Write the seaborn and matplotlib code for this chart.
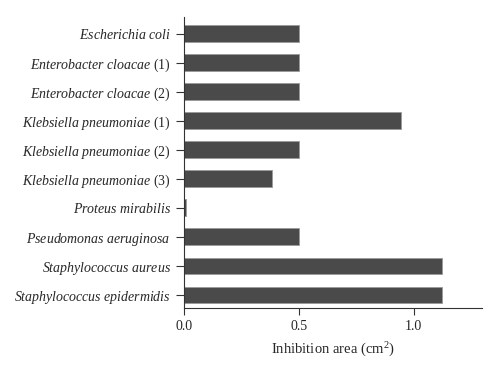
import pandas as pd
import matplotlib
matplotlib.use("Agg")
import matplotlib.pyplot as plt
import seaborn as sns

species = ["Escherichia coli", "Enterobacter cloacae", "Enterobacter cloacae",
           "Klebsiella pneumoniae", "Klebsiella pneumoniae", "Klebsiella pneumoniae",
           "Proteus mirabilis", "Pseudomonas aeruginosa", "Staphylococcus aureus",
           "Staphylococcus epidermidis"]
strain = ["", "(1)", "(2)", "(1)", "(2)", "(3)", "", "", "", ""]
area = [0.50, 0.50, 0.50, 0.945, 0.50, 0.383, 0.01, 0.50, 1.123, 1.123]

sns.set_style("ticks")
plt.rcParams["font.family"] = ["Liberation Serif", "DejaVu Serif"]
plt.rcParams["mathtext.fontset"] = "custom"
plt.rcParams["mathtext.it"] = "Liberation Serif:italic"
plt.rcParams["mathtext.rm"] = "Liberation Serif"

labels = []
for s, n in zip(species, strain):
    lab = r"$\it{" + s.replace(" ", r"\ ") + "}$"
    if n:
        lab += " " + n
    labels.append(lab)

df = pd.DataFrame({"label": labels, "area": area})

fig = plt.figure(figsize=(5, 3.78), dpi=100)
ax = fig.add_axes([0.368, 0.185, 0.597, 0.77])
sns.barplot(data=df, x="area", y="label", color="#4a4a4a", saturation=1,
            width=0.58, edgecolor="#9a9a9a", linewidth=0.6, ax=ax)

ax.set_xlim(0, 1.3)
ax.set_ylim(9.45, -0.57)
ax.set_xticks([0, 0.5, 1.0])
ax.set_xticklabels(["0.0", "0.5", "1.0"])
ax.set_ylabel("")
ax.set_xlabel("Inhibition area (cm$^2$)", fontsize=10.5, labelpad=6)
ax.tick_params(axis="both", labelsize=10, color="#333333", width=0.8)
ax.tick_params(axis="y", length=6)
ax.tick_params(axis="x", length=5)
sns.despine(ax=ax)
for sp in ["left", "bottom"]:
    ax.spines[sp].set_linewidth(0.8)
    ax.spines[sp].set_color("#333333")

fig.savefig("out.png", dpi=100)
